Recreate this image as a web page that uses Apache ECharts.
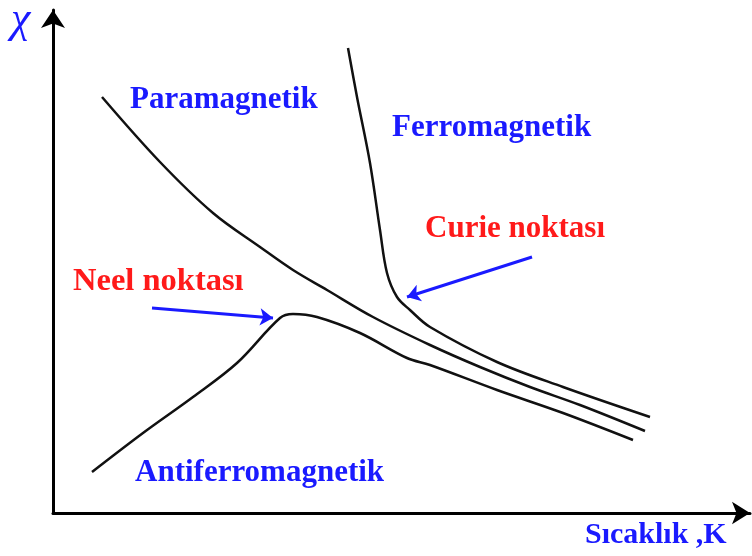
<!DOCTYPE html>
<html>
<head>
<meta charset="utf-8">
<script src="https://cdn.jsdelivr.net/npm/echarts@6/dist/echarts.min.js"></script>
<style>
  html, body { margin: 0; padding: 0; background: #fff; }
  #chart { width: 752px; height: 556px; }
</style>
</head>
<body>
<div id="chart"></div>
<script>
// curves (x = temperature, y = susceptibility, arbitrary units)
const paraX = [49, 107, 160, 207, 240, 274, 320, 377, 427, 477, 527, 592];
const paraY = [416, 351, 300, 266, 243, 223, 196, 168, 146, 126, 108, 82];

const ferroX = [295, 304, 317, 327, 334, 344, 357, 377, 444, 510, 597];
const ferroY = [465, 416, 350, 283, 240, 216, 203, 186, 151, 126, 96];

const antiX = [39, 90, 140, 184, 227, 240, 264, 307, 354, 377, 444, 510, 580];
const antiY = [41, 80, 116, 150, 195, 199, 196, 180, 155, 148, 123, 100, 73];

// pointer arrows: [start, end]
const neelArrow = [[99, 205], [220, 195]];
const curieArrow = [[479, 256], [354, 216]];

const labels = [
  { text: "Paramagnetik", x: 130, y: 100, size: 31, color: "#1a1aff" },
  { text: "Ferromagnetik", x: 392, y: 128, size: 31, color: "#1a1aff" },
  { text: "Curie noktası", x: 425, y: 229, size: 31, color: "#ff1a1a" },
  { text: "Neel noktası", x: 73, y: 282, size: 32.5, color: "#ff1a1a" },
  { text: "Antiferromagnetik", x: 135, y: 473, size: 31, color: "#1a1aff" },
  { text: "Sıcaklık ,K", x: 585, y: 535, size: 30, color: "#1a1aff" }
];

const zip = (xs, ys) => xs.map((x, i) => [x, ys[i]]);

const chart = echarts.init(document.getElementById("chart"));

const curve = (name, xs, ys) => ({
  name: name,
  type: "line",
  data: zip(xs, ys),
  smooth: 0.35,
  showSymbol: false,
  lineStyle: { color: "#111", width: 2.5 },
  animation: false
});

const arrow = (pts) => ({
  type: "lines",
  coordinateSystem: "cartesian2d",
  data: [{ coords: pts }],
  symbol: ["none", "arrow"],
  symbolSize: 13,
  lineStyle: { color: "#1a1aff", width: 3, opacity: 1 },
  animation: false
});

const option = {
  animation: false,
  grid: { left: 53, top: 10, right: 2, bottom: 43 },
  xAxis: {
    type: "value",
    min: 0,
    max: 697,
    axisLine: {
      onZero: false,
      symbol: ["none", "arrow"],
      symbolSize: [17, 18],
      lineStyle: { color: "#000", width: 3 }
    },
    axisTick: { show: false },
    axisLabel: { show: false },
    splitLine: { show: false }
  },
  yAxis: {
    type: "value",
    min: 0,
    max: 503,
    axisLine: {
      show: true,
      onZero: false,
      symbol: ["none", "arrow"],
      symbolSize: [18, 18],
      lineStyle: { color: "#000", width: 3 }
    },
    axisTick: { show: false },
    axisLabel: { show: false },
    splitLine: { show: false }
  },
  graphic: [
    {
      type: "text",
      left: 11,
      top: -2,
      style: {
        text: "χ",
        fill: "#1a1aff",
        font: "italic 44px 'Liberation Serif'"
      }
    }
  ].concat(labels.map((l) => ({
    type: "text",
    x: l.x,
    y: l.y,
    style: {
      text: l.text,
      fill: l.color,
      font: "bold " + l.size + "px 'Liberation Serif'",
      verticalAlign: "middle"
    }
  }))),
  series: [
    curve("Paramagnetik", paraX, paraY),
    curve("Ferromagnetik", ferroX, ferroY),
    curve("Antiferromagnetik", antiX, antiY),
    arrow(neelArrow),
    arrow(curieArrow)
  ]
};

chart.setOption(option);
</script>
</body>
</html>
